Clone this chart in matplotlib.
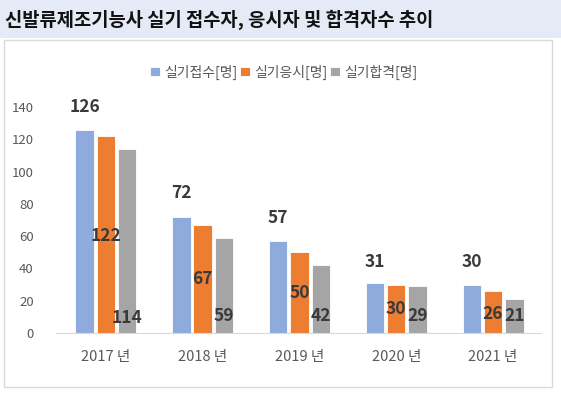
import numpy as np
import matplotlib.pyplot as plt
from matplotlib.patches import Rectangle

plt.rcParams['font.family'] = ['Noto Sans CJK KR', 'DejaVu Sans']

years = ['2017 년', '2018 년', '2019 년', '2020 년', '2021 년']
series = ['실기접수[명]', '실기응시[명]', '실기합격[명]']
applied = [126, 72, 57, 31, 30]
taken = [122, 67, 50, 30, 26]
passed = [114, 59, 42, 29, 21]
colors = ['#8FAADC', '#ED7D31', '#A5A5A5']

# where the data labels sit (value units), as in the original sheet
label_y = [
    [140, 86.5, 71, 44, 44],
    [60, 33.5, 25, 15, 11.5],
    [9.5, 10.5, 10.5, 10.5, 10.5],
]

fig = plt.figure(figsize=(5.61, 3.97), dpi=100)
fig.patch.set_facecolor('white')

# title band
fig.patches.append(Rectangle((0, 1 - 38 / 397), 1, 38 / 397, transform=fig.transFigure,
                             facecolor='#E4EAF6', edgecolor='none', zorder=0))
fig.text(5 / 561, 1 - 20 / 397, '신발류제조기능사 실기 접수자, 응시자 및 합격자수 추이',
         fontsize=13.5, fontweight='bold', va='center', ha='left', color='#111111')
# chart frame
fig.patches.append(Rectangle((4 / 561, 1 - 387 / 397), 548 / 561, 347 / 397,
                             transform=fig.transFigure, facecolor='none',
                             edgecolor='#D9D9D9', linewidth=1, zorder=0))

ax = fig.add_axes([56 / 561, 1 - 333 / 397, 485 / 561, 226 / 397])
x = np.arange(len(years))
w = 0.19
offs = [-0.22, 0, 0.22]
data = [applied, taken, passed]
for i in range(3):
    ax.bar(x + offs[i], data[i], width=w, color=colors[i], edgecolor='white',
           linewidth=0.6, label=series[i], zorder=2)
    for j in range(len(years)):
        ax.text(x[j] + offs[i], label_y[i][j], str(data[i][j]), ha='center', va='center',
                fontsize=12.5, fontweight='bold', color='#3A3A3A', zorder=3, clip_on=False)

ax.set_xlim(-0.515, 4.495)
ax.set_ylim(0, 140)
ax.set_yticks(range(0, 141, 20))
ax.set_xticks(x)
ax.set_xticklabels(years, fontsize=10.5, color='#595959')
ax.tick_params(axis='y', labelsize=9.5, colors='#595959', length=0, pad=16)
ax.tick_params(axis='x', length=0, pad=12)
for s in ['top', 'right', 'left']:
    ax.spines[s].set_visible(False)
ax.spines['bottom'].set_color('#D9D9D9')

ax.legend(loc='center', bbox_to_anchor=(0.47, 1.155), ncol=3, frameon=False,
          fontsize=10, handlelength=0.7, handleheight=0.7, handletextpad=0.3,
          columnspacing=0.2, labelcolor='#595959')

fig.savefig('out.png', dpi=100)
